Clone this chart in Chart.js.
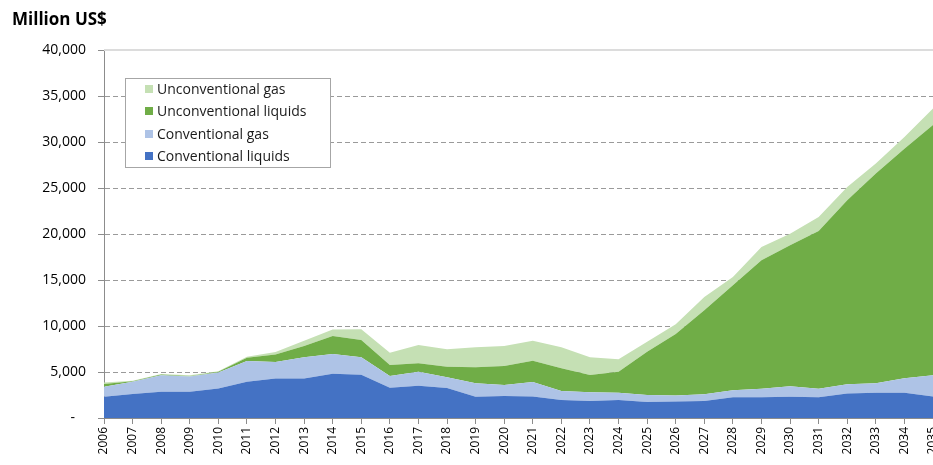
<!DOCTYPE html>
<html>
<head>
<meta charset="utf-8">
<script src="https://cdn.jsdelivr.net/npm/chart.js@4.4.1/dist/chart.umd.min.js"></script>
<style>
  html, body { margin: 0; padding: 0; background: #fff; overflow: hidden; }
  #wrap { width: 960px; height: 465px; position: relative; }
</style>
</head>
<body>
<div id="wrap"><canvas id="c"></canvas></div>
<script>
const years = ['2006','2007','2008','2009','2010','2011','2012','2013','2014','2015','2016','2017','2018','2019','2020','2021','2022','2023','2024','2025','2026','2027','2028','2029','2030','2031','2032','2033','2034','2035'];
const convLiquids   = [2300,2600,2850,2850,3200,3950,4300,4300,4800,4700,3300,3500,3250,2300,2400,2350,1950,1850,1950,1750,1800,1850,2250,2250,2300,2250,2650,2750,2750,2350];
const convGas       = [1100,1350,1800,1650,1750,2250,1800,2300,2150,1900,1270,1530,1170,1470,1190,1560,980,940,800,750,650,720,760,940,1140,940,1010,1020,1560,2300];
const unconvLiquids = [300,50,80,50,80,360,800,1230,1950,1880,1190,910,1160,1740,2060,2320,2470,1880,2280,4700,6680,9130,11410,13950,15330,17140,20000,22800,24960,27200];
const unconvGas     = [150,50,50,100,50,110,280,570,730,1160,1340,1990,1890,2170,2180,2170,2280,1930,1350,1090,1050,1450,910,1450,1270,1520,1450,1080,1270,1800];
const yTicks = [0,5000,10000,15000,20000,25000,30000,35000,40000];
const titleText = 'Million US$';

const seriesNames = ['Conventional liquids','Conventional gas','Unconventional liquids','Unconventional gas'];
const seriesColors = ['#4472C4','#AEC3E6','#70AD47','#C5E0B4'];
const seriesData = [convLiquids, convGas, unconvLiquids, unconvGas];

const datasets = seriesData.map((d, i) => ({
  label: seriesNames[i],
  data: d,
  backgroundColor: seriesColors[i],
  borderColor: seriesColors[i],
  borderWidth: 0,
  pointRadius: 0,
  pointHoverRadius: 0,
  tension: 0,
  fill: i === 0 ? 'origin' : '-1'
}));

const FONT = '"Open Sans", "DejaVu Sans", sans-serif';

const extras = {
  id: 'extras',
  beforeDatasetsDraw(chart) {
    const {ctx, chartArea, scales} = chart;
    const y = scales.y.getPixelForValue(40000);
    ctx.save();
    ctx.strokeStyle = '#dcdcdc';
    ctx.lineWidth = 2;
    ctx.beginPath();
    ctx.moveTo(chartArea.left, y);
    ctx.lineTo(chartArea.right, y);
    ctx.stroke();
    ctx.restore();
  },
  afterDraw(chart) {
    const {ctx} = chart;
    ctx.save();
    ctx.fillStyle = '#000';
    ctx.font = 'bold 17px ' + FONT;
    ctx.textBaseline = 'alphabetic';
    ctx.textAlign = 'left';
    ctx.fillText(titleText, 12, 25);
    const bx = 125.5, by = 78.5, bw = 205, bh = 89;
    ctx.fillStyle = '#fff';
    ctx.fillRect(bx, by, bw, bh);
    ctx.strokeStyle = '#a6a6a6';
    ctx.lineWidth = 1;
    ctx.strokeRect(bx, by, bw, bh);
    const rows = [89, 111, 134, 156];
    ctx.font = '14px ' + FONT;
    ctx.textBaseline = 'middle';
    for (let k = 0; k < 4; k++) {
      const i = 3 - k;
      ctx.fillStyle = chart.data.datasets[i].backgroundColor;
      ctx.fillRect(145, rows[k] - 4, 8, 8);
      ctx.fillStyle = '#1a1a1a';
      ctx.fillText(chart.data.datasets[i].label, 157, rows[k] + 1);
    }
    ctx.restore();
  }
};

new Chart(document.getElementById('c'), {
  type: 'line',
  data: { labels: years, datasets },
  options: {
    responsive: true,
    maintainAspectRatio: false,
    animation: false,
    events: [],
    layout: { padding: { top: 50, right: 27, left: 0, bottom: 0 } },
    plugins: { legend: { display: false }, title: { display: false }, tooltip: { enabled: false } },
    scales: {
      x: {
        offset: false,
        grid: { drawOnChartArea: false, drawTicks: true, tickLength: 6, tickColor: '#8c8c8c' },
        border: { display: true, color: '#8c8c8c', width: 1 },
        ticks: { maxRotation: 90, minRotation: 90, autoSkip: false, padding: 3, color: '#000', font: { family: FONT, size: 12 } },
        afterFit(scale) { scale.height = 47; }
      },
      y: {
        stacked: true,
        min: 0, max: 40000,
        afterBuildTicks(scale) { scale.ticks = yTicks.map(v => ({ value: v })); },
        grid: {
          drawTicks: true, tickLength: 6, tickColor: '#8c8c8c',
          color: (c) => (c.tick && (c.tick.value === 0 || c.tick.value === 40000)) ? 'rgba(0,0,0,0)' : '#9a9a9a',
          lineWidth: 1
        },
        border: { display: true, color: '#8c8c8c', width: 1, dash: [5, 3] },
        ticks: {
          padding: 12, color: '#000', font: { family: FONT, size: 14 },
          callback: (v) => v === 0 ? '-   ' : v.toLocaleString('en-US')
        },
        afterFit(scale) { scale.width = 104; }
      }
    }
  },
  plugins: [extras]
});
</script>
</body>
</html>
